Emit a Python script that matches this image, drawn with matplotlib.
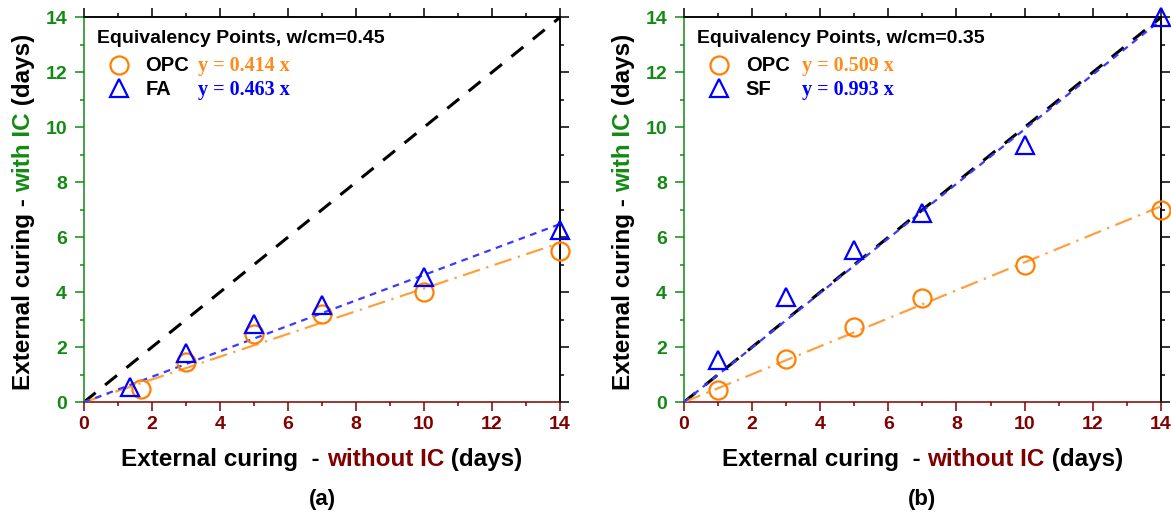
import matplotlib
matplotlib.use("Agg")
import matplotlib.pyplot as plt
import matplotlib.transforms as mtransforms
from matplotlib.ticker import MultipleLocator


# -------------------------
# Data
# -------------------------
days_a_opc = [1.67, 3, 5, 7, 10, 14]
ic_a_opc = [0.5, 1.48, 2.48, 3.2, 4.02, 5.5]
days_a_fa = [1.35, 3, 5, 7, 10, 14]
ic_a_fa = [0.55, 1.8, 2.85, 3.52, 4.57, 6.25]
slope_a_opc = 0.414
slope_a_fa = 0.463

days_b_opc = [1, 3, 5, 7, 10, 14]
ic_b_opc = [0.45, 1.58, 2.72, 3.8, 5.0, 7.0]
days_b_sf = [1, 3, 5, 7, 10, 14]
ic_b_sf = [1.52, 3.82, 5.52, 6.9, 9.35, 14.0]
slope_b_opc = 0.509
slope_b_sf = 0.993

fit_x = [0, 14]
ticks = [0, 2, 4, 6, 8, 10, 12, 14]

# -------------------------
# Styles
# -------------------------
SANS = "Liberation Sans"
SERIF = "Liberation Serif"
GREEN = "#138a13"
DRED = "#800000"
ORANGE = "#ff7f00"
ORANGE_LINE = "#ffa040"
ORANGE_TXT = "#ff8c1a"
BLUE = "#0000ff"
BLUE_LINE = "#3a3aff"

plt.rcParams["font.family"] = SANS
plt.rcParams["font.weight"] = "bold"

W, H = 1171, 517
fig = plt.figure(figsize=(W / 100, H / 100), dpi=100)

ax_a = fig.add_axes([83.7 / W, 1 - 402.3 / H, 476.3 / W, 385 / H])
ax_b = fig.add_axes([683.7 / W, 1 - 402.3 / H, 477.3 / W, 385 / H])


def style_axes(ax):
    ax.set_xlim(0, 14)
    ax.set_ylim(0, 14)
    ax.set_xticks(ticks)
    ax.set_yticks(ticks)
    ax.xaxis.set_minor_locator(MultipleLocator(1))
    ax.yaxis.set_minor_locator(MultipleLocator(1))
    for s in ax.spines.values():
        s.set_linewidth(1.1)
    ax.spines["left"].set_color(GREEN)
    ax.spines["bottom"].set_color(DRED)
    ax.tick_params(which="both", direction="out", width=1.1, labelsize=14)
    ax.tick_params(which="major", length=6.5)
    ax.tick_params(which="minor", length=3)
    ax.tick_params(axis="x", which="both", colors=DRED, pad=3.5)
    ax.tick_params(axis="y", which="both", colors=GREEN, pad=5.5)

    # black ticks on top and right
    top = ax.secondary_xaxis("top")
    top.set_xticks(ticks)
    top.xaxis.set_minor_locator(MultipleLocator(1))
    top.tick_params(which="both", direction="out", width=1.1,
                    labeltop=False, colors="black")
    top.tick_params(which="major", length=6.5)
    top.tick_params(which="minor", length=3)
    top.spines["top"].set_linewidth(1.1)
    right = ax.secondary_yaxis("right")
    right.set_yticks(ticks)
    right.yaxis.set_minor_locator(MultipleLocator(1))
    right.tick_params(which="both", direction="out", width=1.1,
                      labelright=False, colors="black")
    right.tick_params(which="major", length=6.5)
    right.tick_params(which="minor", length=3)
    right.spines["right"].set_linewidth(1.1)


def draw_panel(ax, x1, y1, m1, x2, y2, m2, slope1, slope2, title, name2, eq_x):
    ax.plot(fit_x, fit_x, color="black", lw=2.2, dashes=(5, 4), zorder=2)
    ax.plot(fit_x, [slope1 * v for v in fit_x], color=ORANGE_LINE, lw=1.6,
            dashes=(8, 3, 1, 3), zorder=3)
    ax.plot(fit_x, [slope2 * v for v in fit_x], color=BLUE_LINE, lw=1.6,
            dashes=(3, 2.5), zorder=3)
    ax.plot(x1, y1, ls="none", marker=m1, ms=13, mfc="none", mec=ORANGE,
            mew=1.6, zorder=4, clip_on=False)
    ax.plot(x2, y2, ls="none", marker=m2, ms=13, mfc="none", mec=BLUE,
            mew=1.6, zorder=4, clip_on=False)
    style_axes(ax)

    # legend block
    ax.text(0.027, 0.932, title, transform=ax.transAxes, fontsize=14,
            va="baseline")
    ax.plot([0.075], [0.876], transform=ax.transAxes, marker=m1, ms=13,
            mfc="none", mec=ORANGE, mew=1.6, ls="none")
    ax.plot([0.075], [0.816], transform=ax.transAxes, marker=m2, ms=13,
            mfc="none", mec=BLUE, mew=1.6, ls="none")
    ax.text(0.13, 0.861, "OPC", transform=ax.transAxes, fontsize=14.5,
            va="baseline")
    ax.text(0.13, 0.799, name2, transform=ax.transAxes, fontsize=14.5,
            va="baseline")
    ax.text(eq_x, 0.861, "y = %.3f x" % slope1, transform=ax.transAxes,
            fontsize=14.5, family=SERIF, va="baseline", color=ORANGE_TXT)
    ax.text(eq_x, 0.799, "y = %.3f x" % slope2, transform=ax.transAxes,
            fontsize=14.5, family=SERIF, va="baseline", color=BLUE)


draw_panel(ax_a, days_a_opc, ic_a_opc, "o", days_a_fa, ic_a_fa, "^",
           slope_a_opc, slope_a_fa, "Equivalency Points, w/cm=0.45", "FA",
           0.239)
draw_panel(ax_b, days_b_opc, ic_b_opc, "o", days_b_sf, ic_b_sf, "^",
           slope_b_opc, slope_b_sf, "Equivalency Points, w/cm=0.35", "SF",
           0.247)


# -------------------------
# Multi-coloured axis labels
# -------------------------
fig.canvas.draw()
renderer = fig.canvas.get_renderer()
pix = mtransforms.IdentityTransform()


def piece_width(s, size):
    t = fig.text(0, 0, s + "|", fontsize=size)
    w = t.get_window_extent(renderer).width
    t.remove()
    t = fig.text(0, 0, "|", fontsize=size)
    w -= t.get_window_extent(renderer).width
    t.remove()
    return w


def colored_label(center, base, pieces, size, vertical=False):
    widths = [piece_width(s, size) for s, _ in pieces]
    pos = center - sum(widths) / 2
    for (s, c), w in zip(pieces, widths):
        if vertical:
            fig.text(base, pos, s, transform=pix, rotation=90,
                     rotation_mode="anchor", ha="left", va="baseline",
                     fontsize=size, color=c)
        else:
            fig.text(pos, base, s, transform=pix, ha="left", va="baseline",
                     fontsize=size, color=c)
        pos += w


xlab = [("External curing  - ", "black"), ("without IC", DRED),
        (" (days)", "black")]
ylab = [("External curing - ", "black"), ("with IC", GREEN),
        (" (days)", "black")]

for left, right in [(83.7, 560), (683.7, 1161)]:
    cx = (left + right) / 2
    colored_label(cx, H - 466, xlab, 17.5)
    colored_label(H - 212, left - 54, ylab, 17.5, vertical=True)

fig.text(322 / W, 1 - 500 / H, "(a)", fontsize=16, ha="center", va="center")
fig.text(922 / W, 1 - 500 / H, "(b)", fontsize=16, ha="center", va="center")

fig.savefig("out.png", dpi=100)
